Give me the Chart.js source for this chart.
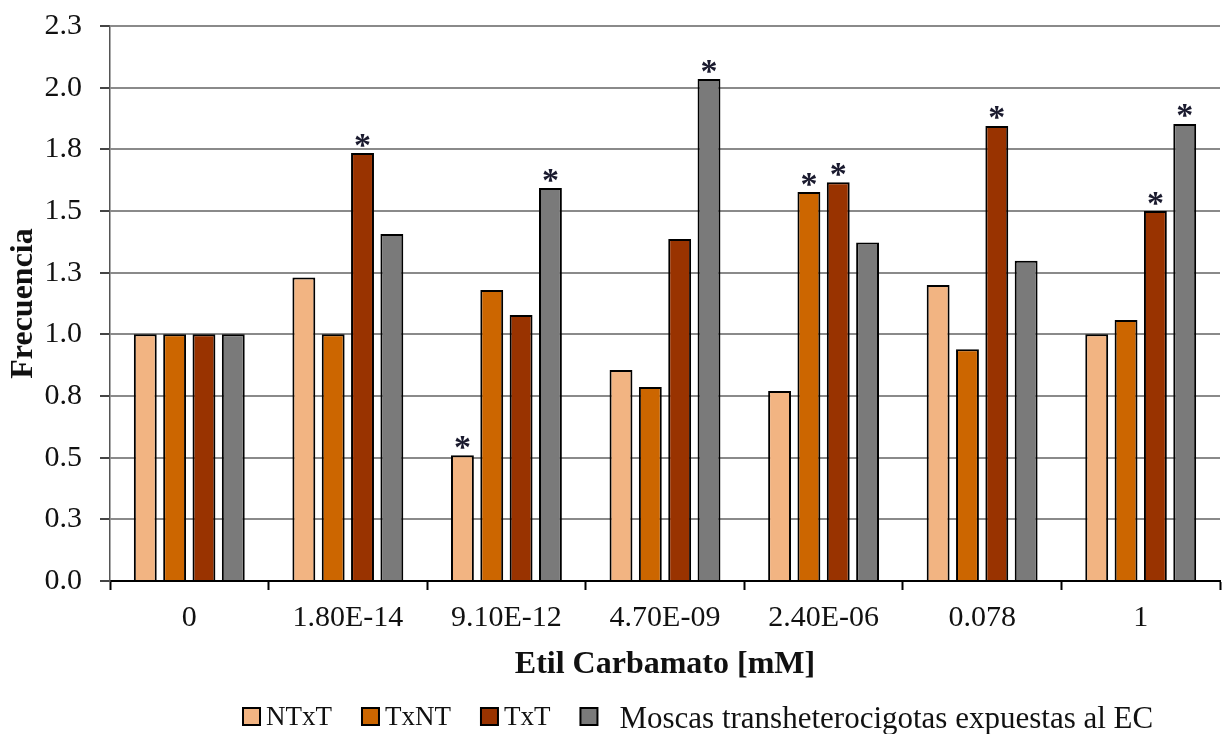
<!DOCTYPE html>
<html>
<head>
<meta charset="utf-8">
<script src="https://cdn.jsdelivr.net/npm/chart.js@4"></script>
<style>
  html, body { margin: 0; padding: 0; background: #fff; }
  #wrap { width: 1224px; height: 734px; }
</style>
</head>
<body>
<div id="wrap"><canvas id="frecChart" width="1224" height="734"></canvas></div>
<script>
// concentraciones de etil carbamato
const categories = ['0', '1.80E-14', '9.10E-12', '4.70E-09', '2.40E-06', '0.078', '1'];

const seriesNames = ['NTxT', 'TxNT', 'TxT', 'Moscas transheterocigotas expuestas al EC'];

const ntxt   = [1.00, 1.23, 0.51, 0.855, 0.77, 1.20, 1.00];
const txnt   = [1.00, 1.00, 1.18, 0.786, 1.577, 0.94, 1.058];
const txt    = [1.00, 1.735, 1.078, 1.386, 1.617, 1.845, 1.50];
const moscas = [1.00, 1.407, 1.593, 2.035, 1.372, 1.298, 1.853];

// asteriscos (diferencia significativa)
const sigNtxt   = [0, 0, 1, 0, 0, 0, 0];
const sigTxnt   = [0, 0, 0, 0, 1, 0, 0];
const sigTxt    = [0, 1, 0, 0, 1, 1, 1];
const sigMoscas = [0, 0, 1, 1, 0, 0, 1];

const yTicks = [0, 0.25, 0.5, 0.75, 1.0, 1.25, 1.5, 1.75, 2.0, 2.25];

const colors = ['#F2B482', '#CC6600', '#993300', '#7A7A7A'];
const serif = "'Liberation Serif', 'Times New Roman', serif";

// dibuja los asteriscos encima de las barras
const starPlugin = {
    id: 'stars',
    afterDatasetsDraw(chart) {
        const ctx = chart.ctx;
        ctx.save();
        ctx.font = 'bold 34px ' + serif;
        ctx.fillStyle = '#1a1a2e';
        ctx.textAlign = 'center';
        ctx.textBaseline = 'alphabetic';
        const m = ctx.measureText('*');
        const glyphMid = (m.actualBoundingBoxAscent - m.actualBoundingBoxDescent) / 2;
        chart.data.datasets.forEach(function(ds, i) {
            const meta = chart.getDatasetMeta(i);
            meta.data.forEach(function(bar, j) {
                if (ds.sig[j]) {
                    ctx.fillText('*', bar.x, bar.y - 13 + glyphMid);
                }
            });
        });
        ctx.restore();
    }
};

// leyenda abajo, cuadrito pegado al texto como en el original
const legendPlugin = {
    id: 'bottomLegend',
    afterDraw(chart) {
        const ctx = chart.ctx;
        let x = 243;
        ctx.save();
        chart.data.datasets.forEach(function(ds, i) {
            const last = i === chart.data.datasets.length - 1;
            ctx.fillStyle = ds.backgroundColor;
            ctx.fillRect(x, 708, 17, 17);
            ctx.lineWidth = 2;
            ctx.strokeStyle = '#000';
            ctx.strokeRect(x, 708, 17, 17);
            x += 17 + (last ? 22 : 6);
            ctx.font = (last ? '31px ' : '27px ') + serif;
            ctx.fillStyle = '#111';
            ctx.textAlign = 'left';
            ctx.textBaseline = 'alphabetic';
            ctx.fillText(ds.label, x, last ? 728 : 725);
            x += ctx.measureText(ds.label).width + 30;
        });
        ctx.restore();
    }
};

const config = {
    type: 'bar',
    data: {
        labels: categories,
        datasets: [
            { label: seriesNames[0], data: ntxt, sig: sigNtxt, backgroundColor: colors[0] },
            { label: seriesNames[1], data: txnt, sig: sigTxnt, backgroundColor: colors[1] },
            { label: seriesNames[2], data: txt, sig: sigTxt, backgroundColor: colors[2] },
            { label: seriesNames[3], data: moscas, sig: sigMoscas, backgroundColor: colors[3] }
        ]
    },
    options: {
        responsive: false,
        animation: false,
        devicePixelRatio: 1,
        datasets: {
            bar: {
                borderColor: '#000',
                borderWidth: 2,
                barPercentage: 0.78,
                categoryPercentage: 0.74
            }
        },
        layout: {
            padding: { top: 26, right: 4, bottom: 0, left: 0 }
        },
        plugins: {
            legend: { display: false },
            tooltip: { enabled: false },
            title: { display: false }
        },
        scales: {
            x: {
                afterFit: function(scale) { scale.height = 153; },
                grid: {
                    drawOnChartArea: false,
                    drawTicks: true,
                    tickLength: 9,
                    tickColor: '#000',
                    tickWidth: 2
                },
                border: { color: '#000', width: 2 },
                ticks: {
                    color: '#111',
                    padding: 10,
                    font: { family: serif, size: 30 }
                },
                title: {
                    display: true,
                    text: 'Etil Carbamato [mM]',
                    color: '#111',
                    font: { family: serif, size: 32, weight: 'bold' },
                    padding: { top: 0, bottom: 50 }
                }
            },
            y: {
                min: 0,
                max: 2.25,
                afterFit: function(scale) {
                    scale.width = 110;
                    scale.paddingTop = 0;
                    scale.paddingBottom = 0;
                },
                afterBuildTicks: function(scale) {
                    scale.ticks = yTicks.map(function(v) { return { value: v }; });
                },
                grid: {
                    color: '#8a8a8a',
                    lineWidth: 2,
                    tickLength: 10,
                    tickColor: '#444'
                },
                border: { color: '#555', width: 1.5 },
                ticks: {
                    color: '#111',
                    padding: 18,
                    font: { family: serif, size: 30 },
                    callback: function(v) { return Number(v).toFixed(1); }
                },
                title: {
                    display: true,
                    text: 'Frecuencia',
                    color: '#111',
                    font: { family: serif, size: 32, weight: 'bold' },
                    padding: { top: 5, bottom: 0 }
                }
            }
        }
    },
    plugins: [starPlugin, legendPlugin]
};

window.onload = function() {
    const ctx = document.getElementById('frecChart').getContext('2d');
    window.frecChart = new Chart(ctx, config);
};
</script>
</body>
</html>
